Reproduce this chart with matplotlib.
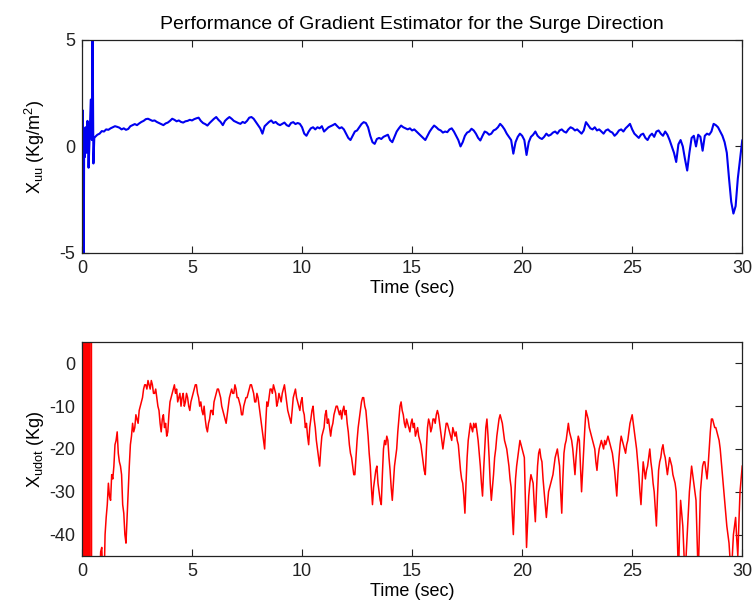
import numpy as np
import matplotlib
matplotlib.use("Agg")
import matplotlib.pyplot as plt

plt.rcParams['font.family'] = ['Liberation Sans', 'DejaVu Sans']
plt.rcParams['mathtext.fontset'] = 'custom'
plt.rcParams['mathtext.rm'] = 'Liberation Sans'
plt.rcParams['mathtext.it'] = 'Liberation Sans:italic'
plt.rcParams['axes.unicode_minus'] = False

# --- X_uu estimate (surge), start-up burst then 0.1 s samples from 0.6 s ---
t_uu_start = [0.0, 0.03, 0.06, 0.08, 0.1, 0.13, 0.16, 0.2, 0.25, 0.3, 0.35, 0.4, 0.45, 0.48, 0.52, 0.56]
x_uu_start = [0.0, 1.7, -3.3, -6.0, 0.8, -0.5, 0.9, -0.3, 1.2, -1.0, 0.5, 2.2, 0.3, 6.0, -0.8, 0.4]

x_uu = [
    0.45, 0.55, 0.60, 0.72, 0.70, 0.80, 0.78, 0.85, 0.90, 0.95,
    0.92, 0.88, 0.80, 0.85, 0.78, 0.82, 0.95, 1.00, 1.05, 1.00,
    1.08, 1.15, 1.20, 1.28, 1.30, 1.25, 1.20, 1.22, 1.15, 1.10,
    1.05, 1.00, 1.08, 1.12, 1.20, 1.30, 1.25, 1.18, 1.22, 1.15,
    1.12, 1.18, 1.20, 1.25, 1.22, 1.28, 1.32, 1.35, 1.20, 1.10,
    1.05, 0.98, 1.10, 1.20, 1.30, 1.38, 1.25, 1.15, 1.00, 1.20,
    1.30, 1.38, 1.30, 1.20, 1.15, 1.10, 1.06, 1.15, 1.10, 1.20,
    1.35, 1.38, 1.30, 1.15, 1.00, 0.85, 0.60, 0.95, 1.05, 1.15,
    1.22, 1.10, 1.15, 1.05, 1.00, 1.06, 1.12, 1.00, 0.95, 1.10,
    1.14, 1.05, 1.10, 1.06, 0.90, 0.60, 0.50, 0.70, 0.85, 0.90,
    0.80, 0.90, 0.85, 0.95, 0.70, 0.80, 0.90, 0.95, 1.00, 1.06,
    0.95, 0.85, 0.90, 0.80, 0.60, 0.40, 0.30, 0.50, 0.70, 0.75,
    0.90, 1.05, 1.14, 1.10, 0.90, 0.50, 0.20, 0.12, 0.35, 0.40,
    0.35, 0.45, 0.50, 0.55, 0.30, 0.20, 0.45, 0.70, 0.85, 0.98,
    0.90, 0.85, 0.80, 0.85, 0.75, 0.80, 0.70, 0.60, 0.50, 0.40,
    0.30, 0.50, 0.70, 0.85, 0.98, 0.90, 0.80, 0.75, 0.65, 0.70,
    0.67, 0.80, 0.85, 0.70, 0.50, 0.30, 0.00, 0.20, 0.50, 0.65,
    0.70, 0.83, 0.75, 0.60, 0.40, 0.28, 0.50, 0.70, 0.65, 0.55,
    0.60, 0.75, 0.80, 0.90, 1.06, 0.95, 0.80, 0.60, 0.45, 0.30,
    -0.34, 0.20, 0.45, 0.60, 0.50, 0.30, -0.40, 0.20, 0.45, 0.55,
    0.70, 0.50, 0.40, 0.35, 0.45, 0.60, 0.50, 0.55, 0.65, 0.70,
    0.60, 0.75, 0.80, 0.70, 0.65, 0.80, 0.90, 0.85, 0.75, 0.80,
    0.70, 0.60, 0.75, 1.14, 1.00, 0.85, 0.80, 0.90, 0.75, 0.80,
    0.70, 0.60, 0.75, 0.80, 0.70, 0.65, 0.50, 0.60, 0.75, 0.80,
    0.70, 0.85, 0.95, 1.06, 0.80, 0.60, 0.50, 0.40, 0.55, 0.60,
    0.40, 0.30, 0.50, 0.60, 0.45, 0.70, 0.75, 0.60, 0.50, 0.70,
    0.55, 0.30, 0.00, -0.30, -0.73, 0.10, 0.30, 0.00, -0.60, -1.13,
    -0.30, 0.40, 0.50, 0.00, 0.55, 0.45, -0.20, 0.50, 0.60, 0.55,
    0.70, 1.06, 1.00, 0.90, 0.70, 0.50, 0.20, -0.30, -1.50, -2.60,
    -3.15, -2.80, -1.50, -0.60, 0.28,
]

# --- X_udot estimate: saturated burst, then one spike, then samples every
# 0.1 s from 0.8 s (x_udot) with the in-between 0.05 s samples (x_udot_mid) ---
t_udot_burst = [0.00, 0.01, 0.02, 0.03, 0.04, 0.05, 0.06, 0.07, 0.08, 0.09,
                0.10, 0.11, 0.12, 0.13, 0.14, 0.15, 0.16, 0.17, 0.18, 0.19,
                0.20, 0.21, 0.22, 0.23, 0.24, 0.25, 0.26, 0.27, 0.28, 0.29,
                0.30, 0.31]
x_udot_burst = [60, -100, 60, -100, 60, -100, 60, -100, 60, -100,
                60, -100, 60, -100, 60, -100, 60, -100, 60, -100,
                60, -100, 60, -100, 60, -100, 60, -100, 60, -100,
                60, -100]

t_udot_spike = [0.41, 0.425, 0.44]
x_udot_spike = [-100, 60, -100]

x_udot = [
    -50, -43, -52, -36, -28, -32, -27, -19, -16, -23,
    -26, -35, -42, -30, -19, -14, -15, -13, -11, -9,
    -6, -5, -4, -6, -5, -7, -8, -11, -16, -12,
    -14, -16, -9, -7, -5, -6, -8, -10, -7, -9,
    -8, -11, -8, -6, -5, -8, -9, -12, -13, -16,
    -13, -11, -9, -7, -6, -8, -11, -13, -12, -8,
    -6, -7, -6, -8, -10, -12, -9, -8, -6, -5,
    -7, -9, -8, -12, -16, -20, -9, -8, -6, -5,
    -7, -9, -8, -7, -5, -9, -12, -14, -8, -6,
    -9, -11, -8, -12, -14, -19, -13, -10, -15, -20,
    -24, -17, -15, -11, -13, -17, -14, -11, -10, -12,
    -13, -10, -11, -16, -21, -24, -26, -18, -13, -9,
    -8, -11, -17, -24, -33, -27, -24, -30, -33, -20,
    -19, -18, -25, -32, -24, -20, -13, -9, -12, -15,
    -14, -16, -13, -14, -16, -17, -19, -23, -26, -15,
    -14, -15, -13, -12, -12, -16, -20, -16, -14, -16,
    -18, -16, -16, -19, -25, -28, -35, -22, -16, -15,
    -14, -14, -18, -24, -31, -20, -13, -22, -32, -26,
    -20, -15, -12, -14, -18, -20, -24, -29, -40, -27,
    -22, -18, -20, -22, -43, -31, -26, -28, -37, -24,
    -20, -23, -30, -36, -30, -28, -26, -22, -20, -24,
    -35, -21, -18, -14, -17, -20, -26, -19, -18, -30,
    -20, -11, -13, -16, -18, -20, -25, -20, -18, -20,
    -19, -17, -19, -21, -25, -31, -22, -17, -19, -21,
    -18, -14, -12, -16, -20, -26, -33, -23, -27, -24,
    -20, -25, -30, -38, -25, -22, -19, -22, -26, -22,
    -24, -27, -30, -50, -32, -38, -50, -40, -30, -24,
    -28, -32, -50, -30, -24, -23, -27, -20, -13, -14,
    -15, -17, -20, -26, -32, -38, -42, -50, -40, -36,
    -45, -30, -24,
]

x_udot_mid = [
    -44, -50, -40, -33, -31, -26, -24, -18, -21, -24,
    -33, -40, -36, -24, -17, -16, -12, -14, -10, -8,
    -5, -6, -5, -4, -7, -6, -10, -14, -13, -15,
    -17, -12, -8, -6, -7, -9, -7, -8, -10, -7,
    -10, -9, -7, -5, -7, -10, -11, -10, -15, -14,
    -11, -12, -8, -6, -7, -10, -12, -14, -10, -7,
    -7, -5, -8, -9, -12, -10, -8, -7, -5, -6,
    -9, -7, -10, -14, -18, -14, -10, -6, -7, -6,
    -10, -7, -9, -6, -7, -11, -13, -11, -7, -8,
    -10, -9, -11, -15, -17, -15, -11, -13, -18, -22,
    -20, -16, -12, -14, -15, -15, -12, -10, -11, -11,
    -11, -12, -14, -19, -22, -26, -22, -15, -11, -8,
    -10, -14, -21, -29, -29, -25, -28, -32, -26, -18,
    -17, -22, -29, -28, -22, -16, -10, -11, -14, -13,
    -15, -14, -15, -17, -15, -18, -21, -25, -20, -13,
    -16, -13, -14, -11, -14, -18, -18, -14, -15, -17,
    -15, -17, -18, -22, -27, -31, -28, -18, -14, -16,
    -15, -16, -21, -28, -25, -15, -17, -28, -29, -22,
    -17, -13, -13, -16, -19, -22, -27, -35, -33, -24,
    -20, -19, -21, -33, -37, -28, -27, -33, -30, -21,
    -22, -27, -33, -33, -29, -27, -24, -21, -22, -30,
    -27, -19, -16, -16, -18, -23, -22, -17, -24, -25,
    -15, -12, -15, -17, -19, -23, -22, -19, -19, -18,
    -18, -18, -20, -23, -28, -26, -19, -18, -20, -19,
    -16, -13, -14, -18, -23, -30, -28, -25, -25, -22,
    -23, -28, -34, -31, -23, -20, -21, -24, -24, -23,
    -26, -28, -40, -40, -35, -44, -45, -35, -27, -26,
    -30, -41, -40, -27, -23, -25, -24, -16, -13, -15,
    -16, -18, -23, -29, -35, -40, -46, -45, -38, -41,
    -37, -27,
]

time_ticks = [0, 5, 10, 15, 20, 25, 30]
uu_ticks = [-5, 0, 5]
udot_ticks = [-40, -30, -20, -10, 0]

t_uu = np.concatenate([t_uu_start, 0.6 + 0.1 * np.arange(len(x_uu))])
v_uu = np.concatenate([x_uu_start, x_uu])

# interleave the 0.1 s samples with the half-step ones
n = len(x_udot)
udot_fine = np.empty(2 * n - 1)
udot_fine[0::2] = x_udot
udot_fine[1::2] = x_udot_mid[:n - 1]
t_udot = np.concatenate([t_udot_spike, 0.8 + 0.05 * np.arange(len(udot_fine))])
v_udot = np.concatenate([x_udot_spike, udot_fine])

fs = 13
fig = plt.figure(figsize=(7.52, 6.14), dpi=100)
ax1 = fig.add_axes([0.109, 0.588, 0.878, 0.347])
ax2 = fig.add_axes([0.109, 0.0945, 0.878, 0.3485])

ax1.plot(t_uu, v_uu, color='#0000f0', lw=1.5)
ax1.set_xlim(0, 30)
ax1.set_ylim(-5, 5)
ax1.set_yticks(uu_ticks)
ax1.set_title('Performance of Gradient Estimator for the Surge Direction',
              fontsize=14, pad=8)
ax1.set_ylabel(r'X$_{\rm uu}$ (Kg/m$^2$)', fontsize=fs, labelpad=9)

ax2.plot(t_udot_burst, x_udot_burst, color='#ff0000', lw=2.0)
ax2.plot(t_udot, v_udot, color='#ff0000', lw=1.1)
ax2.set_xlim(0, 30)
ax2.set_ylim(-45, 5)
ax2.set_yticks(udot_ticks)
ax2.set_ylabel(r'X$_{\rm udot}$ (Kg)', fontsize=fs, labelpad=2)

for ax in (ax1, ax2):
    ax.set_xticks(time_ticks)
    ax.set_xlabel('Time (sec)', fontsize=fs, labelpad=2)
    ax.tick_params(direction='in', top=True, right=True, length=5,
                   width=0.8, labelsize=fs, pad=5, colors='#222222')
    for s in ax.spines.values():
        s.set_color('#222222')
        s.set_linewidth(0.9)

fig.savefig('out.png', dpi=100, facecolor='white')
